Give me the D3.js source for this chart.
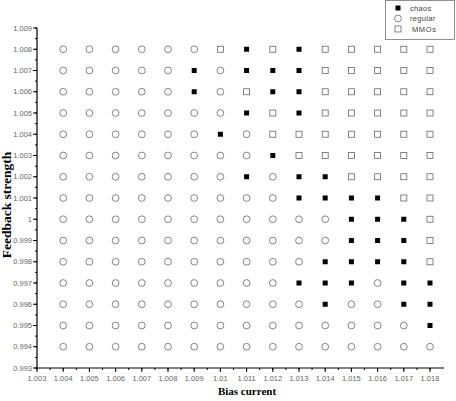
<!DOCTYPE html>
<html><head><meta charset="utf-8">
<script src="https://cdn.jsdelivr.net/npm/d3@7"></script>
<style>body{margin:0;background:#fff}svg{display:block}</style>
</head><body>
<svg id="c" width="456" height="401"></svg>
<script>
const biasCurrent = [1.004,1.005,1.006,1.007,1.008,1.009,1.010,1.011,1.012,1.013,1.014,1.015,1.016,1.017,1.018];
const feedbackStrength = [1.008,1.007,1.006,1.005,1.004,1.003,1.002,1.001,1.000,0.999,0.998,0.997,0.996,0.995,0.994];
// C = chaos, O = regular, S = MMOs ; one string per feedback row, columns follow biasCurrent
const states = [
  "OOOOOOSCSCSSSSS",
  "OOOOOCOCCCSSSSS",
  "OOOOOCOSCCSSSSS",
  "OOOOOOOCSCSSSSS",
  "OOOOOOCOSSSSSSS",
  "OOOOOOOOCSSSSSS",
  "OOOOOOOCOCCSSSS",
  "OOOOOOOOOCCCCSS",
  "OOOOOOOOOOOCCCS",
  "OOOOOOOOOOOCCCS",
  "OOOOOOOOOOCCCCS",
  "OOOOOOOOOCCCOCC",
  "OOOOOOOOOOCOOCC",
  "OOOOOOOOOOOOOOC",
  "OOOOOOOOOOOOOOO"
];
const legendLabels = ["chaos","regular","MMOs"];
const xTicks = [1.003,1.004,1.005,1.006,1.007,1.008,1.009,1.010,1.011,1.012,1.013,1.014,1.015,1.016,1.017,1.018];
const yTicks = [0.993,0.994,0.995,0.996,0.997,0.998,0.999,1.000,1.001,1.002,1.003,1.004,1.005,1.006,1.007,1.008,1.009];

const svg = d3.select("#c");
const x = d3.scaleLinear().domain([1.003, 1.018]).range([37, 430]);
const y = d3.scaleLinear().domain([0.993, 1.009]).range([368, 28]);
const xEnd = 444;

const pts = [];
feedbackStrength.forEach((fs, i) => biasCurrent.forEach((bc, j) => pts.push({bc, fs, s: states[i][j]})));

const fmt = d => d3.format(".3~f")(d);
const labelColor = "#666";

// x axis
const gx = svg.append("g").attr("transform", "translate(0,368)");
gx.append("line").attr("x1", 37).attr("x2", xEnd).attr("stroke", "#000").attr("stroke-width", 1.2);
const xMinor = d3.range(0, 31).map(i => 1.003 + i * 0.0005).filter(v => x(v) <= xEnd + 0.5);
gx.selectAll(".xm").data(xMinor).join("line")
  .attr("x1", d => x(d)).attr("x2", d => x(d)).attr("y1", 0).attr("y2", 2).attr("stroke", "#000");
gx.selectAll(".xt").data(xTicks).join("line")
  .attr("x1", d => x(d)).attr("x2", d => x(d)).attr("y1", 0).attr("y2", 4).attr("stroke", "#000");
gx.selectAll(".xl").data(xTicks).join("text")
  .attr("x", d => x(d)).attr("y", 13).attr("text-anchor", "middle")
  .attr("font-family", "Arial, Liberation Sans, sans-serif").attr("font-size", 7.5).attr("fill", labelColor)
  .text(fmt);

// y axis
const gy = svg.append("g");
gy.append("line").attr("x1", 37).attr("x2", 37).attr("y1", y(1.009)).attr("y2", 368).attr("stroke", "#000").attr("stroke-width", 1.2);
const yMinor = d3.range(0, 33).map(i => 0.993 + i * 0.0005);
gy.selectAll(".ym").data(yMinor).join("line")
  .attr("x1", 35).attr("x2", 37).attr("y1", d => y(d)).attr("y2", d => y(d)).attr("stroke", "#000");
gy.selectAll(".yt").data(yTicks).join("line")
  .attr("x1", 33).attr("x2", 37).attr("y1", d => y(d)).attr("y2", d => y(d)).attr("stroke", "#000");
gy.selectAll(".yl").data(yTicks).join("text")
  .attr("x", 32).attr("y", d => y(d) + 2.5).attr("text-anchor", "end")
  .attr("font-family", "Arial, Liberation Sans, sans-serif").attr("font-size", 7.5).attr("fill", labelColor)
  .text(fmt);

// axis titles
svg.append("text").attr("x", 247).attr("y", 395).attr("text-anchor", "middle")
  .attr("font-family", "Liberation Serif, Times New Roman, serif").attr("font-weight", "bold").attr("font-size", 11)
  .text("Bias current");
svg.append("text").attr("transform", "translate(11,205) rotate(-90)").attr("text-anchor", "middle")
  .attr("font-family", "Liberation Serif, Times New Roman, serif").attr("font-weight", "bold").attr("font-size", 13.5)
  .text("Feedback strength");

// markers
function drawMarker(g, s, cx, cy) {
  if (s === "C") {
    g.append("rect").attr("x", cx - 2.5).attr("y", cy - 2.5).attr("width", 5).attr("height", 5).attr("fill", "#000");
  } else if (s === "O") {
    g.append("circle").attr("cx", cx).attr("cy", cy).attr("r", 3.4).attr("fill", "none").attr("stroke", "#666").attr("stroke-width", 0.8);
  } else {
    g.append("rect").attr("x", cx - 3).attr("y", cy - 3).attr("width", 6).attr("height", 6).attr("fill", "none").attr("stroke", "#666").attr("stroke-width", 0.8);
  }
}
const gm = svg.append("g");
pts.forEach(p => drawMarker(gm, p.s, x(p.bc), y(p.fs)));

// legend
const lg = svg.append("g");
lg.append("rect").attr("x", 385.5).attr("y", 0.5).attr("width", 69).attr("height", 39).attr("fill", "#fff").attr("stroke", "#777").attr("stroke-width", 0.8);
const legendStates = ["C","O","S"];
legendLabels.forEach((lab, i) => {
  const cy = 8 + i * 10.5;
  drawMarker(lg, legendStates[i], 398, cy);
  lg.append("text").attr("x", i === 2 ? 412 : 410).attr("y", cy + 2.5)
    .attr("font-family", "Arial, Liberation Sans, sans-serif").attr("font-size", 7.5).attr("fill", "#444")
    .attr("letter-spacing", i === 2 ? 0.6 : 0.3)
    .text(lab);
});
</script>
</body></html>
